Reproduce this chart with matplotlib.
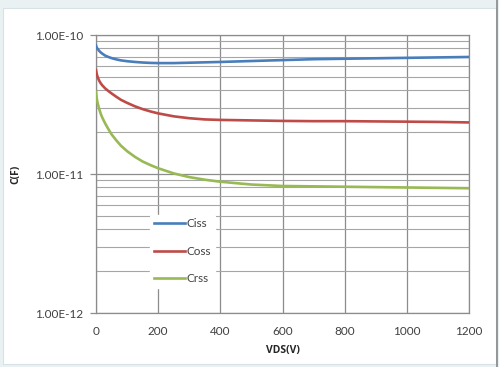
import matplotlib
matplotlib.use("Agg")
import matplotlib.pyplot as plt
from matplotlib.patches import Rectangle
from matplotlib.ticker import LogLocator, FixedLocator, NullFormatter

vds = [0, 2, 5, 10, 15, 20, 30, 40, 50, 65, 80, 100, 125, 150, 175, 200, 250, 300, 350, 400,
       500, 600, 700, 800, 900, 1000, 1100, 1200]
ciss = [8.4e-11, 8.15e-11, 7.95e-11, 7.7e-11, 7.5e-11, 7.35e-11, 7.1e-11, 6.95e-11, 6.82e-11, 6.68e-11,
        6.57e-11, 6.48e-11, 6.4e-11, 6.34e-11, 6.3e-11, 6.28e-11, 6.28e-11, 6.32e-11, 6.36e-11, 6.4e-11,
        6.5e-11, 6.6e-11, 6.7e-11, 6.75e-11, 6.8e-11, 6.85e-11, 6.9e-11, 6.95e-11]
coss = [5.6e-11, 5.3e-11, 5.0e-11, 4.7e-11, 4.5e-11, 4.35e-11, 4.12e-11, 3.95e-11, 3.8e-11, 3.6e-11,
        3.42e-11, 3.25e-11, 3.07e-11, 2.93e-11, 2.82e-11, 2.73e-11, 2.6e-11, 2.52e-11, 2.47e-11, 2.45e-11,
        2.43e-11, 2.41e-11, 2.4e-11, 2.4e-11, 2.39e-11, 2.38e-11, 2.37e-11, 2.35e-11]
crss = [3.9e-11, 3.55e-11, 3.25e-11, 2.95e-11, 2.72e-11, 2.55e-11, 2.3e-11, 2.1e-11, 1.93e-11, 1.75e-11,
        1.6e-11, 1.46e-11, 1.33e-11, 1.23e-11, 1.16e-11, 1.1e-11, 1.01e-11, 9.5e-12, 9.1e-12, 8.8e-12,
        8.4e-12, 8.2e-12, 8.15e-12, 8.1e-12, 8.05e-12, 8.0e-12, 7.95e-12, 7.9e-12]
series = [("Ciss", ciss, "#4a7ebb"), ("Coss", coss, "#be4b48"), ("Crss", crss, "#98b954")]
xticks = [0, 200, 400, 600, 800, 1000, 1200]
yticks = [1e-12, 1e-11, 1e-10]
ytick_labels = ["1.00E-12", "1.00E-11", "1.00E-10"]

plt.rcParams['font.family'] = ['Lato', 'DejaVu Sans']
fig = plt.figure(figsize=(4.99, 3.67), dpi=100)
fig.patch.set_facecolor("#eaf1f3")
fig.add_artist(Rectangle((0.006, 0.008), 0.988, 0.97, transform=fig.transFigure,
                         facecolor="white", edgecolor="#d8e2e6", linewidth=0.8, zorder=-5))
fig.add_artist(plt.Line2D([0.996, 0.996], [0.0, 1.0], transform=fig.transFigure,
                          color="#888888", linewidth=1.2, zorder=-4))

ax = fig.add_axes([0.1924, 0.1471, 0.7475, 0.7575])
ax.set_zorder(2)
for name, vals, col in series:
    ax.plot(vds, vals, color=col, linewidth=1.9, label=name, zorder=3)

ax.set_yscale("log")
ax.set_xlim(0, 1200)
ax.set_ylim(1e-12, 1e-10)
ax.xaxis.set_major_locator(FixedLocator(xticks))
ax.set_xticklabels([str(t) for t in xticks])
ax.yaxis.set_major_locator(FixedLocator(yticks))
ax.set_yticklabels(ytick_labels)
ax.yaxis.set_minor_locator(LogLocator(base=10, subs=range(2, 10)))
ax.yaxis.set_minor_formatter(NullFormatter())
ax.grid(True, which="major", color="#8c8c8c", linewidth=0.9)
ax.grid(True, which="minor", axis="y", color="#a6a6a6", linewidth=0.8)
ax.set_axisbelow(True)
for s in ax.spines.values():
    s.set_color("#8c8c8c")
    s.set_linewidth(0.9)
ax.tick_params(axis="both", which="major", labelsize=8.5, colors="#8c8c8c", labelcolor="#404040",
               length=4, width=0.9, pad=5)
ax.tick_params(axis="y", which="minor", length=0)
ax.tick_params(axis="x", which="major", length=0, pad=9)
ax.set_xlabel("VDS(V)", fontsize=7.5, fontweight="bold", color="#262626", labelpad=6,
              family=['Open Sans', 'DejaVu Sans'])
ax.set_ylabel("C(F)", fontsize=7.5, fontweight="bold", color="#262626", labelpad=10,
              family=['Open Sans', 'DejaVu Sans'])

leg = ax.legend(loc="upper left", bbox_to_anchor=(0.13, 0.375), frameon=True, fontsize=8.5,
                labelspacing=1.4, handlelength=2.6, handletextpad=0.2, borderpad=0.3)
leg.get_frame().set_facecolor("white")
leg.get_frame().set_edgecolor("white")
leg.get_frame().set_alpha(1)
for t in leg.get_texts():
    t.set_color("#404040")

fig.savefig("out.png", dpi=100)
